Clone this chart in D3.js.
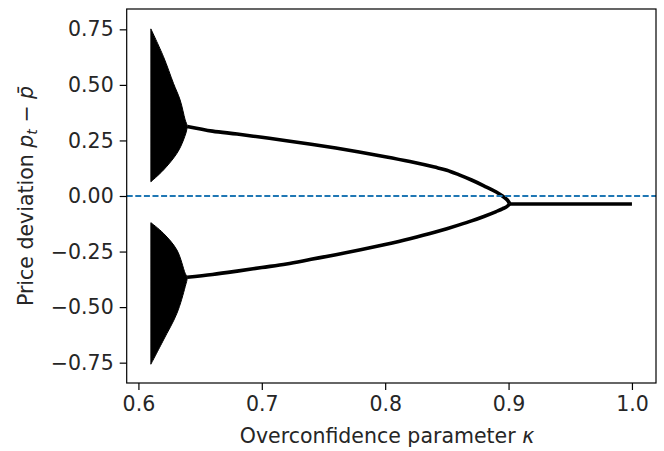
<!DOCTYPE html>
<html>
<head>
<meta charset="utf-8">
<script src="https://cdn.jsdelivr.net/npm/d3@7"></script>
<style>
  body { margin: 0; background: #fff; }
  text { font-family: "DejaVu Sans", sans-serif; fill: #262626; }
</style>
</head>
<body>
<div id="chart"></div>
<script>
// chaotic bands near kappa = 0.61, outlines
// (traced from top-left, round the right side, to bottom-left)
var upBandK = [0.6101, 0.6203, 0.6284, 0.6338, 0.6379, 0.6395, 0.6365, 0.6312, 0.6203, 0.6101];
var upBandV = [0.752, 0.627, 0.507, 0.432, 0.342, 0.313, 0.252, 0.192, 0.117, 0.064];
var loBandK = [0.6101, 0.6203, 0.6312, 0.6379, 0.6395, 0.6379, 0.6312, 0.6203, 0.6101];
var loBandV = [-0.120, -0.168, -0.243, -0.348, -0.366, -0.408, -0.528, -0.648, -0.757];

// period-2 branches
var branchK  = [0.6395, 0.66, 0.68, 0.70, 0.72, 0.74, 0.76, 0.78, 0.80, 0.82, 0.84, 0.85, 0.86, 0.87, 0.88, 0.89, 0.895, 0.899, 0.901];
var branchUp = [0.313, 0.292, 0.279, 0.264, 0.249, 0.233, 0.216, 0.197, 0.177, 0.155, 0.130, 0.116, 0.095, 0.072, 0.046, 0.018, 0.000, -0.018, -0.034];
var branchLo = [-0.366, -0.353, -0.338, -0.322, -0.306, -0.285, -0.264, -0.242, -0.218, -0.192, -0.163, -0.147, -0.130, -0.112, -0.092, -0.070, -0.058, -0.046, -0.034];

// fixed point after the merge
var fixedK = [0.901, 1.0];
var fixedV = [-0.036, -0.036];

var xTicks = [0.6, 0.7, 0.8, 0.9, 1.0];
var yTicks = [0.75, 0.5, 0.25, 0, -0.25, -0.5, -0.75];

var width = 664,
    height = 451,
    axLeft = 126.7, axRight = 656, axTop = 9, axBottom = 383,
    fontSize = 20.5;

var svg = d3.select("#chart").append("svg")
  .attr("width", width)
  .attr("height", height);

var x = d3.scaleLinear().domain([0.5905, 1.0195]).range([axLeft, axRight]);
var y = d3.scaleLinear().domain([-0.8415, 0.8415]).range([axBottom, axTop]);

var plot = svg.append("g");

var outline = function (ks, vs) {
  return d3.line()
    .x(function(d, i) { return x(ks[i]); })
    .y(function(d) { return y(d); })
    .curve(d3.curveCatmullRom.alpha(0.5))(vs) + "Z";
};

plot.append("path").attr("d", outline(upBandK, upBandV))
  .attr("fill", "#000").attr("stroke", "#000").attr("stroke-width", 1);
plot.append("path").attr("d", outline(loBandK, loBandV))
  .attr("fill", "#000").attr("stroke", "#000").attr("stroke-width", 1);

var branchLine = function (vals) {
  return d3.line()
    .x(function(d, i) { return x(branchK[i]); })
    .y(function(d) { return y(d); })
    .curve(d3.curveMonotoneX)(vals);
};

plot.append("path").attr("d", branchLine(branchUp))
  .attr("fill", "none").attr("stroke", "#000").attr("stroke-width", 3.6);
plot.append("path").attr("d", branchLine(branchLo))
  .attr("fill", "none").attr("stroke", "#000").attr("stroke-width", 3.6);

plot.append("path")
  .attr("d", d3.line()
    .x(function(d, i) { return x(fixedK[i]); })
    .y(function(d) { return y(d); })(fixedV))
  .attr("fill", "none").attr("stroke", "#000").attr("stroke-width", 3.6);

// dashed zero line
plot.append("line")
  .attr("x1", axLeft).attr("x2", axRight)
  .attr("y1", y(0)).attr("y2", y(0))
  .attr("stroke", "#1f77b4")
  .attr("stroke-width", 1.8)
  .attr("stroke-dasharray", "6,2.6");

// axes
var xAxis = svg.append("g")
  .attr("transform", "translate(0," + axBottom + ")")
  .call(d3.axisBottom(x).tickValues(xTicks).tickFormat(d3.format(".1f")).tickSize(7).tickPadding(6));
var yAxis = svg.append("g")
  .attr("transform", "translate(" + axLeft + ",0)")
  .call(d3.axisLeft(y).tickValues(yTicks).tickFormat(function(d) {
    return d3.format(".2f")(d).replace("-", "\u2212");
  }).tickSize(7).tickPadding(6));

[xAxis, yAxis].forEach(function (a) {
  a.attr("font-size", fontSize).attr("font-family", "DejaVu Sans");
  a.select(".domain").remove();
  a.selectAll("line").attr("stroke", "#000").attr("stroke-width", 1.2);
  a.selectAll("text").attr("fill", "#262626");
});

svg.append("rect")
  .attr("x", axLeft).attr("y", axTop)
  .attr("width", axRight - axLeft).attr("height", axBottom - axTop)
  .attr("fill", "none").attr("stroke", "#000").attr("stroke-width", 1.2);

// axis labels
var xl = svg.append("text")
  .attr("x", 387).attr("y", 443)
  .attr("text-anchor", "middle")
  .attr("font-size", fontSize);
xl.append("tspan").text("Overconfidence parameter ");
xl.append("tspan").attr("font-style", "italic").text("\u03ba");

var yl = svg.append("text")
  .attr("transform", "translate(33," + ((axTop + axBottom) / 2) + ") rotate(-90)")
  .attr("text-anchor", "middle")
  .attr("font-size", fontSize);
yl.append("tspan").text("Price deviation ");
yl.append("tspan").attr("font-style", "italic").text("p");
yl.append("tspan").attr("font-style", "italic").attr("font-size", fontSize * 0.7).attr("dy", 4).text("t");
yl.append("tspan").attr("dy", -4).text(" \u2212 ");
yl.append("tspan").attr("font-style", "italic").text("p\u0304");
</script>
</body>
</html>
